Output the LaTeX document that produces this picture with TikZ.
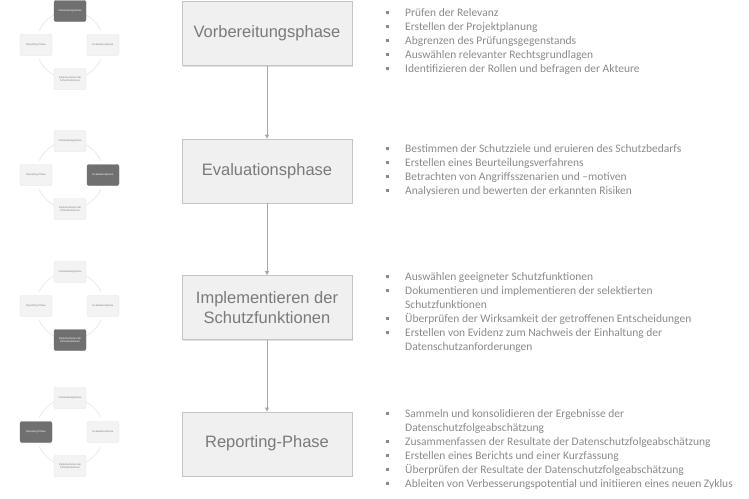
\documentclass[tikz,border=0pt]{standalone}
\usepackage{fontspec}
\setmainfont{Carlito}
\newfontfamily\arialfont{Liberation Sans}
\usetikzlibrary{arrows.meta,shadows,positioning}
\definecolor{boxfill}{HTML}{F0F0F0}
\definecolor{boxrand}{HTML}{C4C4C4}
\definecolor{boxtext}{HTML}{7A7A7A}
\definecolor{pfeilgrau}{HTML}{A8A8A8}
\definecolor{listtext}{HTML}{8A8A8A}
\definecolor{mdunkel}{HTML}{707070}
\definecolor{mhell}{HTML}{F3F3F3}
\newcommand{\bul}{\makebox[19pt][l]{\raisebox{2pt}{\textcolor{listtext}{\rule{3pt}{3pt}}}}}
\newcommand{\einz}{\hspace*{19pt}}

\begin{document}
\begin{tikzpicture}[x=1pt, y=-1pt,
	phase/.style={draw=boxrand, fill=boxfill, minimum width=170pt, minimum height=64pt, align=center, text=boxtext,
		font=\arialfont\fontsize{16.5}{20}\selectfont, drop shadow={shadow xshift=1pt, shadow yshift=-1.5pt, opacity=0.25}},
	liste/.style={anchor=north west, inner sep=0pt, align=left, text=listtext, font=\fontsize{11.5}{14}\selectfont},
	pfeil/.style={draw=pfeilgrau, line width=0.7pt, -{Triangle[width=4pt,length=4pt]}},
	minihell/.style={draw=gray!22, fill=mhell, rounded corners=2pt, minimum width=32pt, minimum height=21pt, inner sep=0pt,
		align=center, text=gray, font=\arialfont\fontsize{2.6}{3}\selectfont},
	minidunkel/.style={minihell, draw=mdunkel, fill=mdunkel, text=white},
	zyklus/.style={draw=gray!20, line width=0.6pt}]
	\useasboundingbox (0,0) rectangle (749,498);

	% Phases in the middle
	\node[phase] (vorb) at (267,33.5) {Vorbereitungsphase};
	\node[phase, below=73pt of vorb] (eval) {Evaluationsphase};
	\node[phase, below=72pt of eval] (impl) {Implementieren der\\Schutzfunktionen};
	\node[phase, below=72pt of impl] (rep) {Reporting-Phase};

	% Arrows between phases
	\draw[pfeil] (vorb) -- (eval);
	\draw[pfeil] (eval) -- (impl);
	\draw[pfeil] (impl) -- (rep);

	% Small cycles on the left (current phase dark)
	\foreach \cy/\oben/\rechts/\unten/\links [count=\n] in {45/minidunkel/minihell/minihell/minihell,
		175/minihell/minidunkel/minihell/minihell, 306/minihell/minihell/minidunkel/minihell,
		432/minihell/minihell/minihell/minidunkel} {
		\foreach \w in {25,115,205,295}
		\draw[zyklus] ([shift={(\w:34)}]70,\cy) arc[start angle=\w, delta angle=40, radius=34];
		\node[\oben] (m\n-o) at (70,\cy-34) {Vorbereitungsphase};
		\node[\rechts] (m\n-r) at (103,\cy) {Evaluationsphase};
		\node[\unten] (m\n-u) at (70,\cy+34) {Implementieren der\\Schutzfunktionen};
		\node[\links] (m\n-l) at (36,\cy) {Reporting-Phase};
	}

	% Activities of each phase
	\node[liste] (liste1) at (386,8) {\bul Prüfen der Relevanz\\
		\bul Erstellen der Projektplanung\\
		\bul Abgrenzen des Prüfungsgegenstands\\
		\bul Auswählen relevanter Rechtsgrundlagen\\
		\bul Identifizieren der Rollen und befragen der Akteure};
	\node[liste] (liste2) at (386,144) {\bul Bestimmen der Schutzziele und eruieren des Schutzbedarfs\\
		\bul Erstellen eines Beurteilungsverfahrens\\
		\bul Betrachten von Angriffsszenarien und –motiven\\
		\bul Analysieren und bewerten der erkannten Risiken};
	\node[liste] (liste3) at (386,272) {\bul Auswählen geeigneter Schutzfunktionen\\
		\bul Dokumentieren und implementieren der selektierten\\
		\einz Schutzfunktionen\\
		\bul Überprüfen der Wirksamkeit der getroffenen Entscheidungen\\
		\bul Erstellen von Evidenz zum Nachweis der Einhaltung der\\
		\einz Datenschutzanforderungen};
	\node[liste] (liste4) at (386,409) {\bul Sammeln und konsolidieren der Ergebnisse der\\
		\einz Datenschutzfolgeabschätzung\\
		\bul Zusammenfassen der Resultate der Datenschutzfolgeabschätzung\\
		\bul Erstellen eines Berichts und einer Kurzfassung\\
		\bul Überprüfen der Resultate der Datenschutzfolgeabschätzung\\
		\bul Ableiten von Verbesserungspotential und initiieren eines neuen Zyklus};
\end{tikzpicture}
\end{document}
